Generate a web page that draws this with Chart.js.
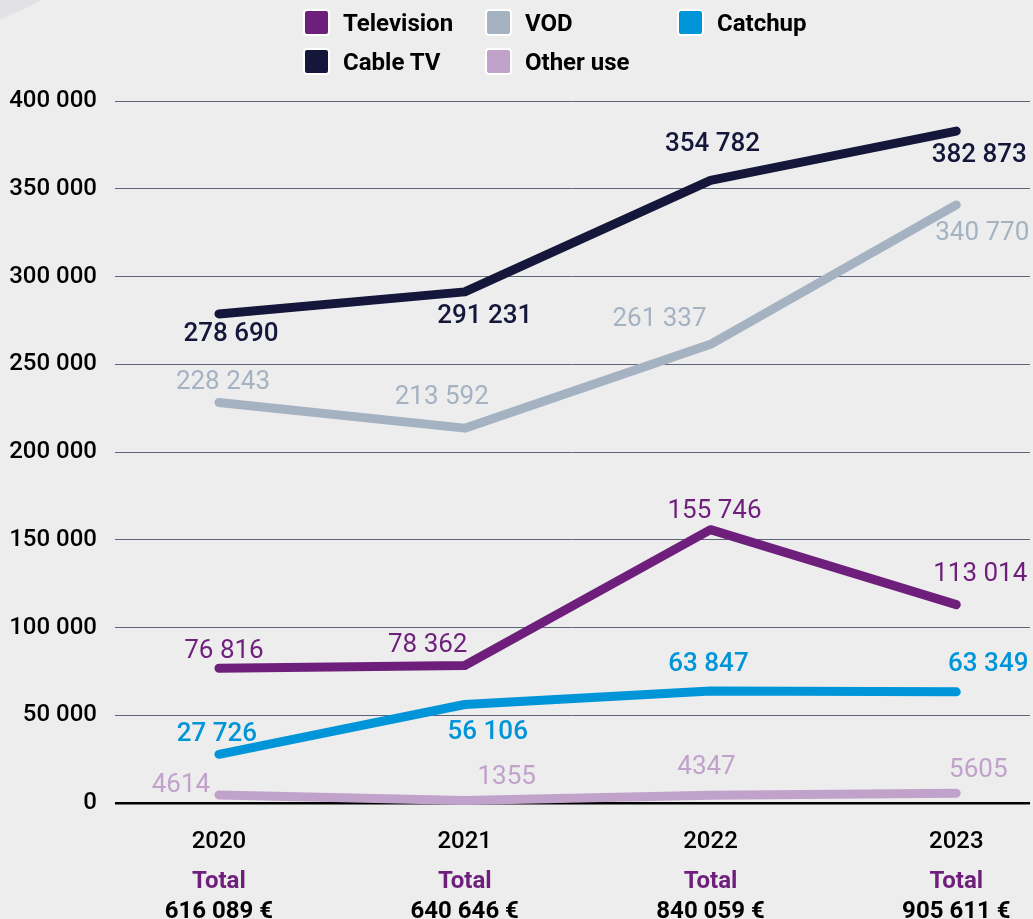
<!DOCTYPE html>
<html>
<head>
<meta charset="utf-8">
<script src="https://cdn.jsdelivr.net/npm/chart.js@4.4.1/dist/chart.umd.min.js"></script>
<style>
  html, body { margin: 0; padding: 0; background: #ededed; overflow: hidden; }
  #wrap { position: relative; width: 1033px; height: 919px; overflow: hidden; }
  #corner {
    position: absolute; left: -557px; top: -766px;
    width: 814px; height: 814px; border-radius: 50%;
    background: #e2e1e5;
  }
  #chart { position: absolute; left: 0; top: 0; }
  #legend {
    position: absolute; left: 303px; top: 9px;
    display: grid;
    grid-template-columns: 182px 192px 200px;
    row-gap: 12px;
    font-family: Roboto, sans-serif; font-weight: 700; font-size: 24px; color: #000;
  }
  .item { display: flex; align-items: center; height: 27px; }
  .sw {
    width: 23px; height: 23px; border: 2px solid #fff; border-radius: 4px;
    margin-right: 13px; flex: none;
  }
</style>
</head>
<body>
<div id="wrap">
  <div id="corner"></div>
  <canvas id="chart" width="1033" height="919"></canvas>
  <div id="legend"></div>
</div>
<script>
// years on the x axis and yearly totals
const years = ['2020', '2021', '2022', '2023'];
const totals = [616089, 640646, 840059, 905611];

// series values
const television = [76816, 78362, 155746, 113014];
const vod = [228243, 213592, 261337, 340770];
const catchup = [27726, 56106, 63847, 63349];
const cableTv = [278690, 291231, 354782, 382873];
const otherUse = [4614, 1355, 4347, 5605];

const seriesNames = ['Television', 'VOD', 'Catchup', 'Cable TV', 'Other use'];
const seriesValues = [television, vod, catchup, cableTv, otherUse];
const seriesColors = ['#6e1f7b', '#a5b2c2', '#0095d8', '#14163a', '#c1a2cb'];

// where each value label sits relative to its point (pixels)
const labelOffsets = [
    [[5, -17], [-37, -20], [4, -18], [24, -30]],
    [[4, -20], [-23, -31], [-51, -25], [26, 29]],
    [[-2, -20], [23, 28], [-2, -26], [32, -27]],
    [[12, 21], [20, 25], [2, -36], [23, 24]],
    [[-38, -9], [42, -23], [-4, -28], [22, -23]]
];
const labelWeights = [400, 400, 500, 500, 400];

const yTicks = [0, 50000, 100000, 150000, 200000, 250000, 300000, 350000, 400000];

// format with a plain space as thousands separator (four-digit numbers stay as they are)
function fmt(n) {
    if (n < 10000) return String(n);
    return String(n).replace(/\B(?=(\d{3})+(?!\d))/g, ' ');
}

// legend built from the series arrays
function buildLegend() {
    const legend = document.getElementById('legend');
    seriesNames.forEach((name, i) => {
        const item = document.createElement('div');
        item.className = 'item';
        const sw = document.createElement('span');
        sw.className = 'sw';
        sw.style.background = seriesColors[i];
        const txt = document.createElement('span');
        txt.innerText = name;
        item.appendChild(sw);
        item.appendChild(txt);
        legend.appendChild(item);
    });
}
buildLegend();

// value labels next to each point
const valueLabels = {
    id: 'valueLabels',
    afterDatasetsDraw(chart) {
        const ctx = chart.ctx;
        ctx.save();
        ctx.textAlign = 'center';
        ctx.textBaseline = 'middle';
        chart.data.datasets.forEach((ds, di) => {
            const meta = chart.getDatasetMeta(di);
            ctx.fillStyle = seriesColors[di];
            ctx.font = labelWeights[di] + ' 26px Roboto, sans-serif';
            meta.data.forEach((pt, i) => {
                const off = labelOffsets[di][i];
                ctx.fillText(fmt(seriesValues[di][i]), pt.x + off[0], pt.y + off[1]);
            });
        });
        ctx.restore();
    }
};

// year, "Total" and total amount under each column
const yearLabels = {
    id: 'yearLabels',
    afterDraw(chart) {
        const ctx = chart.ctx;
        const xs = chart.scales.x;
        const base = chart.chartArea.bottom;
        ctx.save();
        ctx.textAlign = 'center';
        ctx.textBaseline = 'middle';
        years.forEach((yr, i) => {
            const x = xs.getPixelForValue(i);
            ctx.font = '500 24px Roboto, sans-serif';
            ctx.fillStyle = '#000';
            ctx.fillText(yr, x, base + 39);
            ctx.font = '700 24px Roboto, sans-serif';
            ctx.fillStyle = '#6e1f7b';
            ctx.fillText('Total', x, base + 79);
            ctx.fillStyle = '#000';
            ctx.fillText(fmt(totals[i]) + ' €', x, base + 109);
        });
        ctx.restore();
    }
};

const datasets = seriesNames.map((name, di) => ({
    label: name,
    data: seriesValues[di].map((v, i) => ({ x: i, y: v })),
    borderColor: seriesColors[di],
    backgroundColor: seriesColors[di],
    borderWidth: 9,
    borderCapStyle: 'round',
    borderJoinStyle: 'round',
    pointRadius: 0,
    tension: 0,
    clip: false
}));

new Chart(document.getElementById('chart').getContext('2d'), {
    type: 'line',
    data: { datasets: datasets },
    options: {
        responsive: false,
        animation: false,
        layout: { padding: { top: 101, right: 3, left: 0, bottom: 0 } },
        plugins: {
            legend: { display: false },
            tooltip: { enabled: false }
        },
        scales: {
            x: {
                type: 'linear',
                min: -0.423,
                max: 3.30,
                grid: { display: false },
                border: { display: false },
                ticks: { display: false },
                afterFit: scale => { scale.height = 116; }
            },
            y: {
                min: 0,
                max: 400000,
                afterBuildTicks: scale => { scale.ticks = yTicks.map(v => ({ value: v })); },
                afterFit: scale => { scale.width = 115; },
                border: { display: false },
                grid: {
                    drawTicks: false,
                    color: c => c.tick && c.tick.value === 0 ? '#000' : '#5f6379',
                    lineWidth: c => c.tick && c.tick.value === 0 ? 2.5 : 1
                },
                ticks: {
                    padding: 18,
                    color: '#000',
                    font: { family: 'Roboto', size: 24, weight: 500 },
                    callback: v => fmt(v)
                }
            }
        }
    },
    plugins: [valueLabels, yearLabels]
});
</script>
</body>
</html>
